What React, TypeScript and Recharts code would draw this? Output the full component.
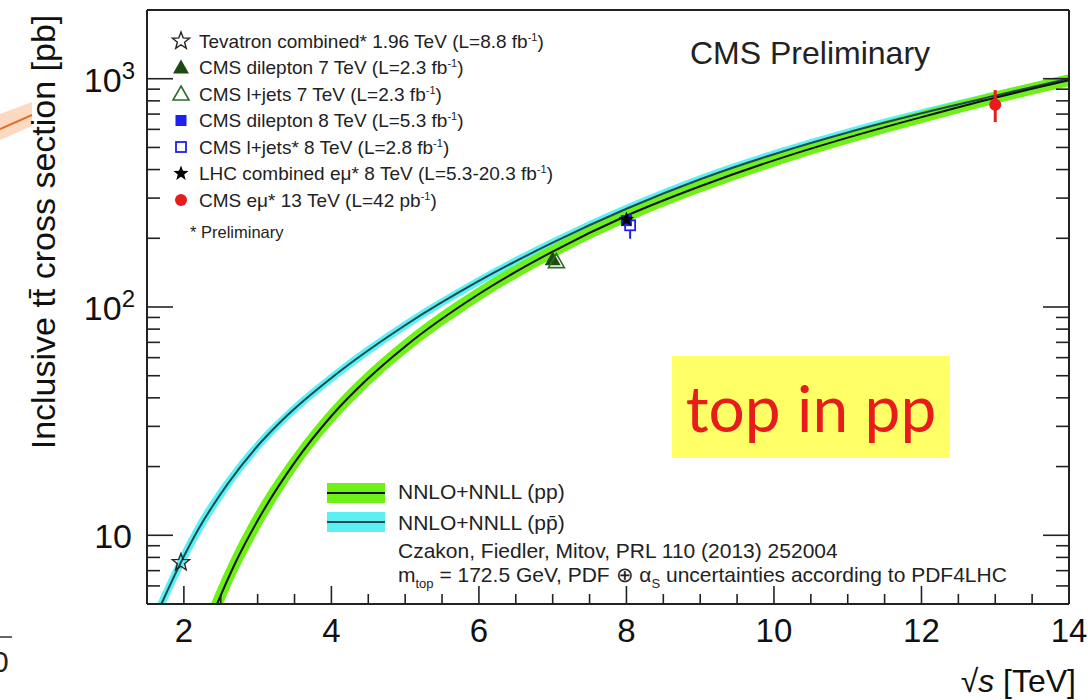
import React from 'react';
import { ComposedChart, Area, Line, Scatter, ErrorBar, XAxis, YAxis } from 'recharts';

const W = 1088;
const H = 700;
const FONT = '"Liberation Sans", Arial, Helvetica, sans-serif';

const GREEN = '#6ef018';
const CYAN = '#5cf0f5';
const RED = '#e81c1c';
const BLUE = '#1f1ff0';
const DARK_GREEN = '#1c4a10';
const FRAME = '#222';

// NNLO+NNLL, pp collisions: sqrt(s) [TeV], central value and band edges [pb]
const ppEnergy = [2.3, 2.45, 2.7, 3.0, 3.5, 4.0, 4.5, 5.0, 6.0, 7.0, 8.0, 9.0, 10.0, 11.0, 12.0, 13.0, 14.0];
const ppCentral = [3.8, 5.0, 7.6, 11.6, 20.8, 33.3, 48.7, 67.2, 114, 175, 251, 338, 439, 552, 679, 826, 984];
const ppLow = [3.25, 4.31, 6.67, 10.27, 18.9, 30.5, 44.9, 62.2, 106, 163.6, 235, 317, 412, 519, 638, 777, 926];
const ppHigh = [4.45, 5.8, 8.66, 13.1, 22.9, 36.3, 52.8, 72.6, 122.6, 187.3, 268, 360, 467.5, 587, 722, 878, 1046];

// NNLO+NNLL, ppbar collisions
const ppbarEnergy = [1.6, 1.706, 1.96, 2.2, 2.6, 2.96, 3.41, 4.0, 5.0, 6.0, 7.0, 8.0, 9.0, 10.0, 11.0, 12.0, 13.0, 14.0];
const ppbarCentral = [4.26, 5.09, 7.61, 10.67, 16.9, 23.8, 33.7, 48.9, 83.2, 130.0, 191.4, 269.4, 362.7, 467, 581.5, 705.5, 843, 1002.6];
const ppbarLow = [3.86, 4.63, 6.95, 9.81, 15.74, 22.37, 31.91, 46.48, 79.31, 124.2, 183.0, 257.8, 347.4, 447.7, 558.1, 677.1, 809, 962.2];
const ppbarHigh = [4.7, 5.6, 8.33, 11.61, 18.15, 25.32, 35.59, 51.44, 87.28, 136.1, 200.2, 281.5, 378.7, 487.1, 605.9, 735.1, 878.4, 1044.7];

// measurements
const measEnergy = [1.96, 7.0, 7.05, 8.0, 8.05, 8.0, 13.0];
const measXsec = [7.6, 161.9, 158.1, 239.0, 228.0, 241.5, 769.0];
const measErr = [0, 0, 0, 0, 29, 0, 123];

const xTicks = [2, 2.5, 3, 3.5, 4, 4.5, 5, 5.5, 6, 6.5, 7, 7.5, 8, 8.5, 9, 9.5, 10, 10.5, 11, 11.5, 12, 12.5, 13, 13.5, 14];
const xLabels = [2, 4, 6, 8, 10, 12, 14];
const yTicks = [6, 7, 8, 9, 10, 20, 30, 40, 50, 60, 70, 80, 90, 100, 200, 300, 400, 500, 600, 700, 800, 900, 1000];
const yLabels = [10, 100, 1000];

const ppRows = ppEnergy.map((s, i) => ({ s, xsec: ppCentral[i], band: [ppLow[i], ppHigh[i]] }));
const ppbarRows = ppbarEnergy.map((s, i) => ({ s, xsec: ppbarCentral[i], band: [ppbarLow[i], ppbarHigh[i]] }));
const meas = (i: number) => [{ s: measEnergy[i], xsec: measXsec[i], err: [measErr[i], measErr[i]] }];

// ---- marker shapes ----
const starPoints = (cx: number, cy: number, R: number) => {
  const pts: string[] = [];
  for (let i = 0; i < 10; i++) {
    const rad = i % 2 === 0 ? R : R * 0.42;
    const a = -Math.PI / 2 + (i * Math.PI) / 5;
    pts.push(`${cx + rad * Math.cos(a)},${cy + rad * Math.sin(a)}`);
  }
  return pts.join(' ');
};
const triPoints = (cx: number, cy: number) => `${cx},${cy - 8} ${cx + 8},${cy + 6} ${cx - 8},${cy + 6}`;

const OpenStar = ({ cx, cy }: any) => (
  <polygon points={starPoints(cx, cy, 9)} fill="none" stroke="#222" strokeWidth={1.4} />
);
const FullStar = ({ cx, cy }: any) => <polygon points={starPoints(cx, cy, 8)} fill="#000" />;
const FullTri = ({ cx, cy }: any) => <polygon points={triPoints(cx, cy)} fill={DARK_GREEN} />;
const OpenTri = ({ cx, cy }: any) => (
  <polygon points={triPoints(cx, cy)} fill="none" stroke="#2d6b2a" strokeWidth={1.6} />
);
const FullSquare = ({ cx, cy }: any) => <rect x={cx - 5.5} y={cy - 5.5} width={11} height={11} fill={BLUE} />;
const OpenSquare = ({ cx, cy }: any) => (
  <rect x={cx - 5} y={cy - 5} width={10} height={10} fill="#fff" stroke={BLUE} strokeWidth={1.8} />
);
const Dot = ({ cx, cy }: any) => <circle cx={cx} cy={cy} r={6} fill={RED} />;

// ---- inward ROOT-style ticks ----
const xTick = (side: 'bottom' | 'top') => (props: any) => {
  const { x, y, payload } = props;
  const major = xLabels.includes(payload.value);
  const len = major ? 18 : 10;
  const dir = side === 'bottom' ? -1 : 1;
  return (
    <g>
      <line x1={x} x2={x} y1={y} y2={y + dir * len} stroke={FRAME} strokeWidth={1.6} />
      {side === 'bottom' && major && (
        <text x={x} y={y + 38} textAnchor="middle" fontSize={33} fontFamily={FONT} fill="#111">
          {payload.value}
        </text>
      )}
    </g>
  );
};

const yTick = (side: 'left' | 'right') => (props: any) => {
  const { x, y, payload } = props;
  const v = payload.value;
  const major = yLabels.includes(v);
  const len = major ? 26 : 13;
  const dir = side === 'left' ? 1 : -1;
  const exp = v === 1000 ? '3' : v === 100 ? '2' : null;
  return (
    <g>
      <line x1={x} x2={x + dir * len} y1={y} y2={y} stroke={FRAME} strokeWidth={1.6} />
      {side === 'left' && major && (
        <text x={exp ? x - 12 : x - 15} y={y + 13} textAnchor="end" fontSize={34} fontFamily={FONT} fill="#111">
          10
          {exp ? (
            <tspan dy={-13} fontSize={24}>
              {exp}
            </tspan>
          ) : null}
        </text>
      )}
    </g>
  );
};

const frameLine = { stroke: FRAME, strokeWidth: 2 };

const legendRows = [
  { shape: OpenStar, text: 'Tevatron combined* 1.96 TeV (L=8.8 fb', sup: '-1' },
  { shape: FullTri, text: 'CMS dilepton 7 TeV (L=2.3 fb', sup: '-1' },
  { shape: OpenTri, text: 'CMS l+jets 7 TeV (L=2.3 fb', sup: '-1' },
  { shape: FullSquare, text: 'CMS dilepton 8 TeV (L=5.3 fb', sup: '-1' },
  { shape: OpenSquare, text: 'CMS l+jets* 8 TeV (L=2.8 fb', sup: '-1' },
  { shape: FullStar, text: 'LHC combined e\u03bc* 8 TeV (L=5.3-20.3 fb', sup: '-1' },
  { shape: Dot, text: 'CMS e\u03bc* 13 TeV (L=42 pb', sup: '-1' },
];

export default function App() {
  return (
    <div style={{ position: 'absolute', left: 0, top: 0, width: W, height: H, background: '#fff' }}>
      <ComposedChart width={W} height={H} margin={{ top: 0, right: 0, bottom: 0, left: 0 }}>
        <XAxis
          dataKey="s"
          type="number"
          domain={[1.5, 14]}
          allowDataOverflow
          ticks={xTicks}
          interval={0}
          height={96}
          tickSize={0}
          tickMargin={0}
          axisLine={frameLine}
          tick={xTick('bottom')}
        />
        <XAxis
          xAxisId="top"
          orientation="top"
          type="number"
          domain={[1.5, 14]}
          allowDataOverflow
          ticks={xTicks}
          interval={0}
          height={10}
          tickSize={0}
          tickMargin={0}
          axisLine={frameLine}
          tick={xTick('top')}
        />
        <YAxis
          type="number"
          scale="log"
          domain={[5, 2000]}
          allowDataOverflow
          ticks={yTicks}
          interval={0}
          width={147}
          tickSize={0}
          tickMargin={0}
          axisLine={frameLine}
          tick={yTick('left')}
        />
        <YAxis
          yAxisId="right"
          orientation="right"
          type="number"
          scale="log"
          domain={[5, 2000]}
          allowDataOverflow
          ticks={yTicks}
          interval={0}
          width={19}
          tickSize={0}
          tickMargin={0}
          axisLine={frameLine}
          tick={yTick('right')}
        />

        <Area data={ppbarRows} dataKey="band" type="monotone" fill={CYAN} fillOpacity={1} stroke="none" isAnimationActive={false} />
        <Line data={ppbarRows} dataKey="xsec" type="monotone" stroke="#174a50" strokeWidth={2} dot={false} activeDot={false} isAnimationActive={false} />
        <Area data={ppRows} dataKey="band" type="monotone" fill={GREEN} fillOpacity={1} stroke="none" isAnimationActive={false} />
        <Line data={ppRows} dataKey="xsec" type="monotone" stroke="#111" strokeWidth={2} dot={false} activeDot={false} isAnimationActive={false} />

        <Scatter data={meas(0)} dataKey="xsec" shape={OpenStar} isAnimationActive={false} />
        <Scatter data={meas(1)} dataKey="xsec" shape={FullTri} isAnimationActive={false} />
        <Scatter data={meas(2)} dataKey="xsec" shape={OpenTri} isAnimationActive={false} />
        <Scatter data={meas(4)} dataKey="xsec" shape={OpenSquare} isAnimationActive={false}>
          <ErrorBar dataKey="err" direction="y" width={0} stroke={BLUE} strokeWidth={2} />
        </Scatter>
        <Scatter data={meas(3)} dataKey="xsec" shape={FullSquare} isAnimationActive={false} />
        <Scatter data={meas(5)} dataKey="xsec" shape={FullStar} isAnimationActive={false} />
        <Scatter data={meas(6)} dataKey="xsec" shape={Dot} isAnimationActive={false}>
          <ErrorBar dataKey="err" direction="y" width={0} stroke={RED} strokeWidth={3} />
        </Scatter>
      </ComposedChart>

      <svg width={W} height={H} style={{ position: 'absolute', left: 0, top: 0, pointerEvents: 'none' }} fontFamily={FONT}>
        {/* edge of the neighbouring figure */}
        <polygon points="0,114 32,102 32,126 0,140" fill="#fcd9c0" />
        <line x1={0} y1={129} x2={32} y2={115} stroke="#e0702a" strokeWidth={2} />
        <line x1={0} y1={637} x2={12} y2={637} stroke="#333" strokeWidth={1.5} />
        <text x={-8} y={672} fontSize={30} fill="#222">0</text>

        {/* axis titles */}
        <text x={55} y={232} transform="rotate(-90 55 232)" textAnchor="middle" fontSize={34} fill="#111">
          Inclusive tt{'\u0304'} cross section [pb]
        </text>
        <text x={1076} y={692} textAnchor="end" fontSize={32} fill="#111">
          {'\u221a'}
          <tspan fontStyle="italic">s</tspan> [TeV]
        </text>

        {/* measurement legend */}
        {legendRows.map((row, i) => {
          const cy = 41 + i * 26.5;
          const Shape = row.shape;
          return (
            <g key={i}>
              <Shape cx={181} cy={cy} />
              <text x={199} y={cy + 6.5} fontSize={19} fill="#222">
                {row.text}
                <tspan dy={-7} fontSize={11}>
                  {row.sup}
                </tspan>
                <tspan dy={7}>)</tspan>
              </text>
            </g>
          );
        })}
        <text x={190} y={238} fontSize={16.5} fill="#222">
          * Preliminary
        </text>

        <text x={690} y={64} fontSize={32} fill="#222">
          CMS Preliminary
        </text>

        {/* theory legend */}
        <rect x={327} y={483} width={58} height={20} fill={GREEN} />
        <line x1={327} x2={385} y1={493} y2={493} stroke="#111" strokeWidth={2} />
        <rect x={327} y={512} width={58} height={20} fill={CYAN} />
        <line x1={327} x2={385} y1={522} y2={522} stroke="#174a50" strokeWidth={2} />
        <text x={398} y={499} fontSize={21} fill="#222">
          NNLO+NNLL (pp)
        </text>
        <text x={398} y={530} fontSize={21} fill="#222">
          NNLO+NNLL (pp{'\u0304'})
        </text>
        <text x={398} y={558} fontSize={21} fill="#222">
          Czakon, Fiedler, Mitov, PRL 110 (2013) 252004
        </text>
        <text x={398} y={582} fontSize={21} fill="#222">
          m<tspan dy={6} fontSize={13}>top</tspan>
          <tspan dy={-6}> = 172.5 GeV, PDF</tspan>
          <tspan> {'\u2295'} {'\u03b1'}</tspan>
          <tspan dy={6} fontSize={13}>S</tspan>
          <tspan dy={-6}> uncertainties according to PDF4LHC</tspan>
        </text>

        {/* annotation */}
        <rect x={672} y={356} width={278} height={102} fill="#ffff66" />
        <text x={811} y={432} textAnchor="middle" fontSize={64} fontFamily="Lato, 'Open Sans', sans-serif" fill={RED}>
          top in pp
        </text>
      </svg>
    </div>
  );
}
